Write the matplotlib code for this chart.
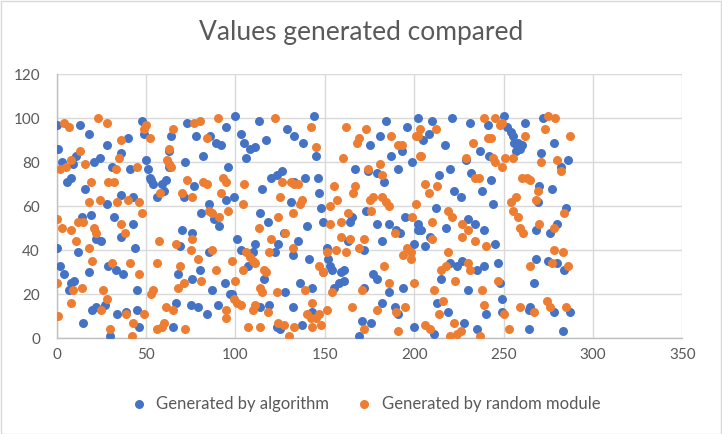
import matplotlib
matplotlib.use("Agg")
import matplotlib.pyplot as plt
from matplotlib.patches import Rectangle

# ---- data: Generated by algorithm (blue) ----
algo_x = [0,13,18,40,28,1,11,36,24,21,3,9,31,41,8,6,16,36,43,28,14,19,32,36,43,22,25,0,12,44,29,33,37,2,4,18,8,10,7,45,20,22,27,34,39,45,15,30,46,
          48,49,64,73,95,78,86,89,92,82,63,50,51,63,72,96,52,53,54,59,61,60,56,77,71,95,85,81,88,91,70,76,69,85,80,68,76,87,94,97,67,75,79,84,90,65,
          100,113,144,129,133,138,145,103,105,108,111,117,106,115,120,123,126,133,139,146,147,131,148,99,114,118,127,140,101,111,124,135,132,122,103,110,107,141,116,128,136,143,98,114,119,132,143,137,123,125,
          184,196,202,175,181,193,187,199,167,174,179,183,191,173,195,149,164,165,179,186,190,192,202,163,172,182,151,200,152,153,154,159,161,161,158,155,177,179,172,186,194,182,189,191,171,176,169,200,
          210,221,231,241,250,252,254,255,208,205,217,237,242,229,214,220,232,243,238,222,226,244,212,230,234,239,245,202,204,218,209,206,220,224,227,235,239,247,248,215,230,213,219,240,249,249,211,228,235,
          258,260,259,257,262,272,278,271,286,282,270,269,277,268,276,280,285,268,275,280,284,267,265,264,278,287,264,283,256]
algo_y = [97,97,93,91,88,86,83,84,82,80,80,79,78,77,73,71,68,65,64,61,55,56,55,46,52,45,44,41,39,41,33,31,29,33,29,30,25,26,22,22,13,14,15,11,12,13,7,1,5,
          99,93,92,98,96,92,92,89,88,83,85,81,77,78,80,78,73,72,70,70,72,67,64,69,64,63,61,57,54,51,49,48,42,39,31,29,27,22,25,20,16,15,14,11,15,5,
          101,99,101,95,92,89,83,93,89,86,87,90,82,68,73,74,76,71,73,73,66,62,59,64,57,53,48,51,45,43,43,44,38,39,40,39,33,36,27,21,25,23,20,14,15,14,12,6,5,4,
          99,96,100,88,92,85,83,80,77,76,75,71,77,58,55,53,53,55,52,52,49,48,49,44,40,44,41,43,36,33,31,30,31,26,25,23,29,27,23,21,23,16,14,11,8,7,1,5,
          99,100,98,97,101,96,94,92,93,90,88,85,83,81,74,77,75,72,67,67,64,61,59,54,52,49,43,52,49,50,46,42,34,33,35,31,33,34,25,27,22,16,12,11,18,12,2,7,4,
          89,88,86,85,98,100,89,84,81,78,69,62,68,49,48,52,59,36,35,34,31,25,14,13,12,12,4,3,89]

# ---- data: Generated by random module (orange) ----
rand_x = [4,7,23,28,36,13,35,8,16,2,5,33,45,19,29,32,24,18,34,40,46,0,12,15,3,8,21,22,36,38,11,18,20,31,41,46,0,9,14,26,28,8,25,39,1,30,43,42,
          50,49,52,65,77,80,90,84,63,62,63,64,58,73,70,76,82,84,93,95,92,48,85,87,91,96,76,57,67,75,87,56,79,89,69,81,71,68,54,53,61,65,95,95,49,56,59,60,72,
          122,142,145,105,126,131,133,135,125,137,136,132,104,124,113,128,120,132,119,106,108,110,111,147,149,98,104,116,117,100,114,115,123,139,99,101,103,110,111,118,143,140,142,145,147,143,148,124,127,130,133,107,114,
          162,173,169,168,187,191,193,201,160,203,174,181,182,155,167,166,157,175,177,182,184,186,176,153,201,199,153,159,163,189,159,164,172,169,156,162,151,196,198,194,198,149,154,183,186,171,200,165,179,190,195,151,172,191,
          239,245,248,249,203,202,212,233,241,243,244,245,249,251,255,229,204,234,236,206,208,213,254,255,219,221,227,230,227,234,240,210,210,219,215,218,230,231,247,223,211,238,216,214,239,250,253,206,209,222,220,224,226,237,
          262,275,279,273,287,271,280,282,260,263,265,269,268,257,258,259,261,270,278,284,265,278,283,277,286,259,267,274,276,285]
rand_y = [98,96,100,98,90,85,82,81,79,77,78,77,78,71,71,71,63,62,62,63,62,54,53,53,50,49,50,48,52,48,44,41,35,34,34,29,25,22,23,22,18,16,13,11,10,4,7,1,
          97,95,91,95,98,99,100,91,86,81,79,78,66,72,66,64,71,70,73,71,66,57,58,57,55,58,45,44,43,40,40,34,36,31,33,26,25,23,22,20,14,13,13,9,11,4,5,7,4,
          100,96,87,70,71,71,70,70,64,63,61,57,61,55,50,48,45,41,39,39,37,35,34,33,30,35,31,31,30,26,23,21,21,22,18,16,15,13,15,12,16,11,9,9,11,5,6,7,6,1,5,5,5,
          96,95,91,89,92,88,88,92,82,83,77,79,74,69,69,66,63,63,64,64,62,60,58,60,61,55,52,53,57,48,46,45,45,41,40,39,39,41,39,38,36,30,21,33,25,22,25,14,13,12,14,13,4,3,
          100,100,97,98,95,92,95,89,91,91,82,80,78,82,82,82,83,73,73,70,66,69,62,58,58,55,52,49,46,44,42,53,45,39,31,33,34,31,26,26,22,22,17,11,15,11,4,6,4,7,1,2,3,1,
          92,101,100,95,92,80,81,76,73,73,72,67,63,64,55,50,48,52,50,57,33,40,39,34,33,14,12,17,14,14]

series_names = ["Generated by algorithm", "Generated by random module"]
title_text = "Values generated compared"
x_ticks = [0, 50, 100, 150, 200, 250, 300, 350]
y_ticks = [0, 20, 40, 60, 80, 100, 120]

plt.rcParams['font.family'] = ['Lato', 'DejaVu Sans']
text_color = '#595959'
grid_color = '#d9d9d9'

fig = plt.figure(figsize=(7.22, 4.34), dpi=100)
ax = fig.add_axes([0.0784, 0.221, 0.8668, 0.6076])

ax.scatter(algo_x, algo_y, s=42, color='#4472C4', label=series_names[0], zorder=3, linewidths=0)
ax.scatter(rand_x, rand_y, s=42, color='#ED7D31', label=series_names[1], zorder=3, linewidths=0)

ax.set_xlim(0, 350)
ax.set_ylim(0, 120)
ax.set_xticks(x_ticks)
ax.set_yticks(y_ticks)
ax.grid(True, color=grid_color, linewidth=1.0, zorder=0)
ax.set_axisbelow(True)
for side in ['top', 'right']:
    ax.spines[side].set_visible(False)
for side in ['left', 'bottom']:
    ax.spines[side].set_color('#bfbfbf')
    ax.spines[side].set_linewidth(1.0)
ax.tick_params(axis='y', length=0, labelsize=11, colors=text_color, pad=12)
ax.tick_params(axis='x', length=0, labelsize=11, colors=text_color, pad=7)

fig.text(0.5, 0.925, title_text, ha='center', va='center', fontsize=19, color=text_color)

leg = fig.legend(loc='center', bbox_to_anchor=(0.5, 0.07), ncol=2, frameon=False,
                 fontsize=12, handletextpad=0.05, columnspacing=1.1, markerscale=1.0)
for t in leg.get_texts():
    t.set_color(text_color)

fig.patches.append(Rectangle((0.001, 0.001), 0.998, 0.997, transform=fig.transFigure,
                             fill=False, edgecolor='#d9d9d9', linewidth=1))

fig.savefig('out.png', dpi=100)
